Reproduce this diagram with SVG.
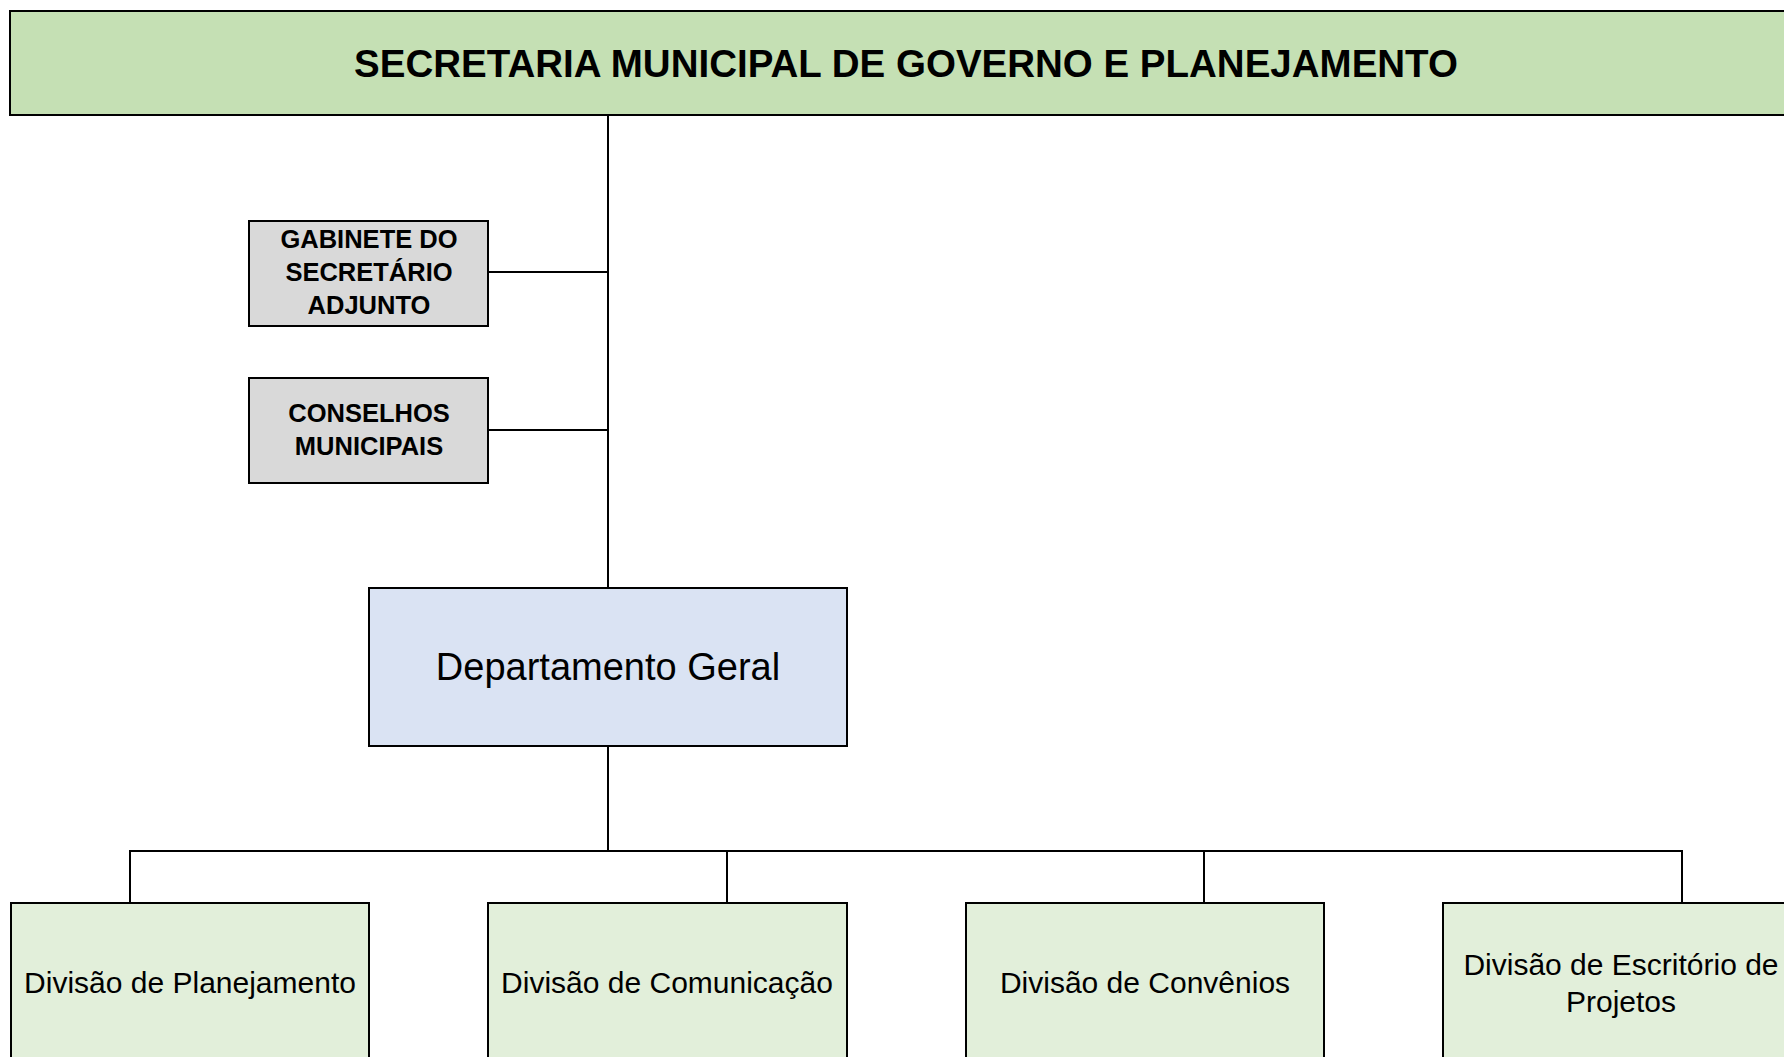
<svg xmlns="http://www.w3.org/2000/svg" width="1784" height="1057" viewBox="0 0 1784 1057">
<style>
.box{stroke:#000;stroke-width:2}
.top{fill:#C5E0B4}
.gray{fill:#D9D9D9}
.dept{fill:#DAE3F3}
.div{fill:#E2EFDA}
.conn line{stroke:#000;stroke-width:2}
text{font-family:"Liberation Sans",Arial,sans-serif;fill:#000;text-anchor:middle}
.b{font-weight:bold}
</style>
<rect width="1784" height="1057" fill="#fff"/>
<g id="connectors" class="conn">
<line x1="608" y1="115" x2="608" y2="588"/>
<line x1="488" y1="272" x2="608" y2="272"/>
<line x1="488" y1="430" x2="608" y2="430"/>
<line x1="608" y1="746" x2="608" y2="851"/>
<line x1="129" y1="851" x2="1683" y2="851"/>
<line x1="130" y1="851" x2="130" y2="903"/>
<line x1="727" y1="851" x2="727" y2="903"/>
<line x1="1204" y1="851" x2="1204" y2="903"/>
<line x1="1682" y1="851" x2="1682" y2="903"/>
</g>
<g id="secretaria">
<rect class="box top" x="10" y="11" width="1790" height="104"/>
<text class="b" x="906" y="77" font-size="38.5">SECRETARIA MUNICIPAL DE GOVERNO E PLANEJAMENTO</text>
</g>
<g id="gabinete">
<rect class="box gray" x="249" y="221" width="239" height="105"/>
<text class="b" font-size="25.5" x="369" y="248">GABINETE DO</text>
<text class="b" font-size="25.5" x="369" y="281">SECRETÁRIO</text>
<text class="b" font-size="25.5" x="369" y="314">ADJUNTO</text>
</g>
<g id="conselhos">
<rect class="box gray" x="249" y="378" width="239" height="105"/>
<text class="b" font-size="25.5" x="369" y="422">CONSELHOS</text>
<text class="b" font-size="25.5" x="369" y="455">MUNICIPAIS</text>
</g>
<g id="departamento">
<rect class="box dept" x="369" y="588" width="478" height="158"/>
<text x="608" y="680" font-size="38">Departamento Geral</text>
</g>
<g id="div-planejamento">
<rect class="box div" x="11" y="903" width="358" height="170"/>
<text x="190" y="993" font-size="30">Divisão de Planejamento</text>
</g>
<g id="div-comunicacao">
<rect class="box div" x="488" y="903" width="359" height="170"/>
<text x="667" y="993" font-size="30">Divisão de Comunicação</text>
</g>
<g id="div-convenios">
<rect class="box div" x="966" y="903" width="358" height="170"/>
<text x="1145" y="993" font-size="30">Divisão de Convênios</text>
</g>
<g id="div-escritorio">
<rect class="box div" x="1443" y="903" width="359" height="170"/>
<text x="1621" y="975" font-size="30">Divisão de Escritório de</text>
<text x="1621" y="1012" font-size="30">Projetos</text>
</g>
</svg>
